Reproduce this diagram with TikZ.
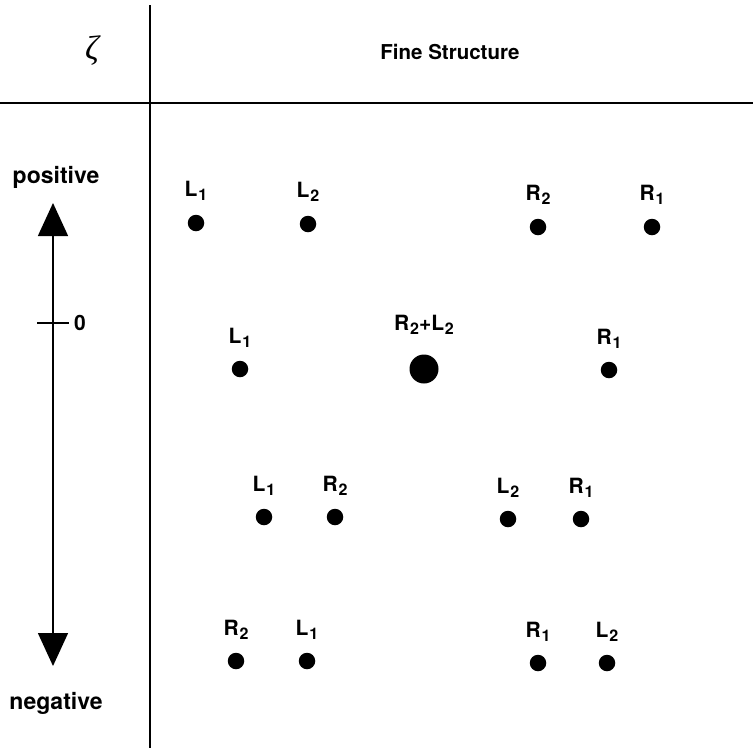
\documentclass[tikz,border=0pt]{standalone}
\usepackage{fontspec}
\setmainfont{TeX Gyre Heros}
\newfontfamily\zetafont{Liberation Serif}
\usetikzlibrary{arrows.meta, positioning}
\newcommand{\idx}[1]{\kern0.8pt\raisebox{-3.5pt}{\fontsize{16}{16}\selectfont #1}}

\begin{document}
\begin{tikzpicture}[x=1pt, y=-1pt,
    dot/.style={circle, fill, inner sep=0pt, minimum size=16.5pt},
    bigdot/.style={circle, fill, inner sep=0pt, minimum size=29pt},
    lbl/.style={font=\fontsize{21}{24}\selectfont\bfseries, inner sep=0pt},
    head/.style={font=\fontsize{20.5}{24}\selectfont\bfseries, inner sep=0pt},
    side/.style={font=\fontsize{23}{26}\selectfont\bfseries, inner sep=0pt},
    rule/.style={line width=1.6pt}
]
\useasboundingbox (0,0) rectangle (753,748);
% table frame
\coordinate (vtop) at (150,5);
\coordinate (vbot) at (150,748);
\coordinate (hl) at (0,103);
\coordinate (hr) at (753,103);
\draw[rule] (vtop) -- (vbot);
\draw[rule] (hl) -- (hr);
\node[inner sep=0pt, font=\fontsize{34}{36}\selectfont\zetafont\itshape] (zeta) at (92,51) {ζ};
\node[head] (title) at (450,52) {Fine Structure};
% zeta axis
\node[side] (pos) at (56,177) {positive};
\node[side] (neg) at (56,703) {negative};
\coordinate (atop) at (53,203);
\coordinate (abot) at (53,666);
\coordinate (zero) at (53,323);
\draw[line width=1.5pt, {Triangle[length=33pt, width=30pt]}-{Triangle[length=33pt, width=30pt]}] (atop) -- (abot);
\draw[line width=1.5pt] (zero) ++(-16,0) -- ++(32,0);
\node[lbl, right=21pt of zero] (zlab) {0};
% row 1
\node[dot] (a1) at (196,223) {};
\node[dot] (a2) at (308,224) {};
\node[dot] (a3) at (538,227) {};
\node[dot] (a4) at (652,227) {};
\node[lbl, above=14pt of a1] {L\idx{1}};
\node[lbl, above=14pt of a2] {L\idx{2}};
\node[lbl, above=14pt of a3] {R\idx{2}};
\node[lbl, above=14pt of a4] {R\idx{1}};
% row 2
\node[dot] (b1) at (240,369) {};
\node[bigdot] (b2) at (424,369) {};
\node[dot] (b3) at (609,370) {};
\node[lbl, above=13pt of b1] {L\idx{1}};
\node[lbl, above=20pt of b2] {R\idx{2}+L\idx{2}};
\node[lbl, above=13pt of b3] {R\idx{1}};
% row 3
\node[dot] (c1) at (264,517) {};
\node[dot] (c2) at (335,517) {};
\node[dot] (c3) at (508,519) {};
\node[dot] (c4) at (581,519) {};
\node[lbl, above=13pt of c1] {L\idx{1}};
\node[lbl, above=13pt of c2] {R\idx{2}};
\node[lbl, above=13pt of c3] {L\idx{2}};
\node[lbl, above=13pt of c4] {R\idx{1}};
% row 4
\node[dot] (d1) at (236,661) {};
\node[dot] (d2) at (307,661) {};
\node[dot] (d3) at (538,663) {};
\node[dot] (d4) at (607,663) {};
\node[lbl, above=13pt of d1] {R\idx{2}};
\node[lbl, above=13pt of d2] {L\idx{1}};
\node[lbl, above=13pt of d3] {R\idx{1}};
\node[lbl, above=13pt of d4] {L\idx{2}};
\end{tikzpicture}
\end{document}
